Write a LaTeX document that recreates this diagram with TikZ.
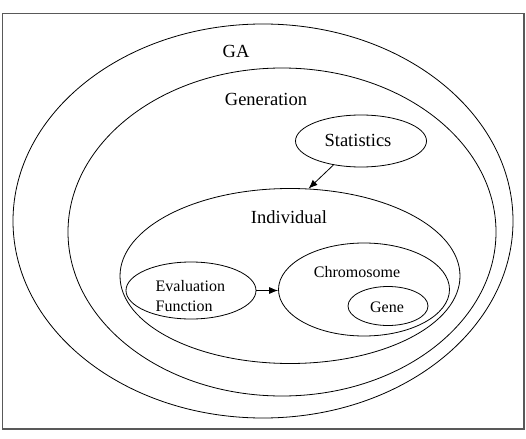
\documentclass[tikz,border=0pt]{standalone}
\usepackage{fontspec}
\setmainfont{Liberation Serif}
\usetikzlibrary{shapes.geometric,arrows.meta}
\begin{document}
\begin{tikzpicture}[x=1pt,y=-1pt,
  oval/.style={draw,ellipse,inner sep=0pt,line width=0.8pt},
  biglabel/.style={font=\fontsize{18.5}{20}\selectfont,inner sep=0pt},
  smalllabel/.style={font=\fontsize{16}{19.5}\selectfont,inner sep=0pt},
  link/.style={line width=0.8pt,-{Latex[length=9pt,width=7pt]}}]
\useasboundingbox (0,0) rectangle (526,438);
% outer frame
\draw[line width=1.3pt,black!65] (2.7,13.5) rectangle (524,429);
% nested ellipses
\node[oval,minimum width=500pt,minimum height=394pt] (ga) at (263,221) {};
\node[oval,minimum width=428pt,minimum height=328pt] (gen) at (282,232) {};
\node[oval,minimum width=340pt,minimum height=175pt] (ind) at (290,276) {};
\node[oval,minimum width=131pt,minimum height=52pt] (stat) at (361,141) {};
\node[oval,minimum width=130pt,minimum height=57pt] (eval) at (191,290.5) {};
\node[oval,minimum width=171pt,minimum height=93pt] (chrom) at (364,289.5) {};
\node[oval,minimum width=80pt,minimum height=39pt] (gene) at (388,306) {};
% labels
\node[biglabel] (galabel) at (236,51) {GA};
\node[biglabel] (genlabel) at (266,99.5) {Generation};
\node[biglabel] (statlabel) at (358,140) {Statistics};
\node[biglabel] (indlabel) at (289,217.5) {Individual};
\node[smalllabel] (chromlabel) at (357,272.4) {Chromosome};
\node[smalllabel] (genelabel) at (387,307.5) {Gene};
\node[smalllabel,align=left,anchor=west] (evallabel) at (155.5,296) {Evaluation\\Function};
% connectors
\draw[link] (stat.221) -- (ind.78);
\draw[link] (eval.east) -- (eval.east -| chrom.west);
\end{tikzpicture}
\end{document}
